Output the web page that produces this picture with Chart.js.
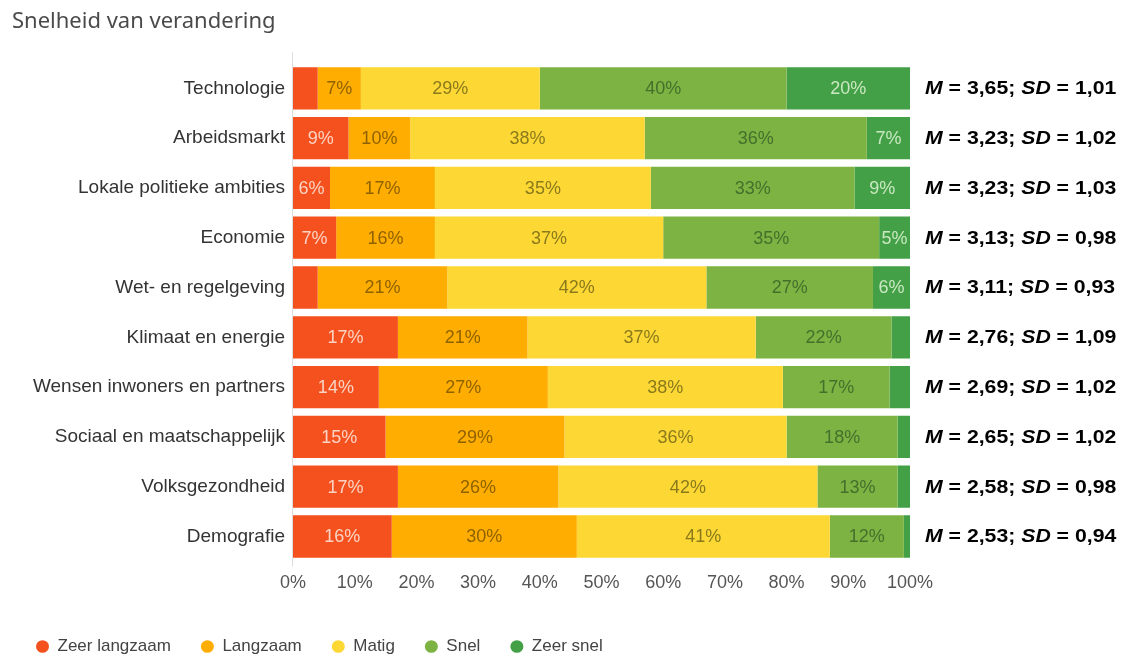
<!DOCTYPE html>
<html><head><meta charset="utf-8">
<script src="https://cdn.jsdelivr.net/npm/chart.js@4/dist/chart.umd.min.js"></script>
<style>html,body{margin:0;padding:0;background:#fff}#wrap{width:1121px;height:657px;position:relative}</style>
</head><body><div id="wrap"><canvas id="c"></canvas></div>
<script>
const categories = ["Technologie","Arbeidsmarkt","Lokale politieke ambities","Economie","Wet- en regelgeving","Klimaat en energie","Wensen inwoners en partners","Sociaal en maatschappelijk","Volksgezondheid","Demografie"];
const seriesNames = ["Zeer langzaam","Langzaam","Matig","Snel","Zeer snel"];
const zeerLangzaam = [4, 9, 6, 7, 4, 17, 13.9, 15, 17, 16];
const langzaam     = [7, 10, 17, 16, 21, 21, 27.4, 29, 26, 30];
const matig        = [29, 38, 35, 37, 42, 37, 38.1, 36, 42, 41];
const snel         = [40, 36, 33, 35, 27, 22, 17.3, 18, 13, 12];
const zeerSnel     = [20, 7, 9, 5, 6, 3, 3.3, 2, 2, 1];
const means = [3.65, 3.23, 3.23, 3.13, 3.11, 2.76, 2.69, 2.65, 2.58, 2.53];
const sds   = [1.01, 1.02, 1.03, 0.98, 0.93, 1.09, 1.02, 1.02, 0.98, 0.94];
const xTicks = [0,10,20,30,40,50,60,70,80,90,100];

const colors = ["#f4511e","#ffad00","#fdd835","#7cb342","#43a047"];
const labelColors = ["#fbd3c4","#8f6200","#8a7a1c","#44702c","#c9e8c1"];
const labelMin = 5;

const axisLine = {
  id:'axisLine',
  beforeDatasetsDraw(chart){
    const ctx = chart.ctx, a = chart.chartArea;
    ctx.save();
    ctx.strokeStyle = '#dddddd'; ctx.lineWidth = 1;
    ctx.beginPath();
    ctx.moveTo(a.left - 0.5, a.top - 11);
    ctx.lineTo(a.left - 0.5, a.bottom + 5);
    ctx.stroke();
    ctx.restore();
  }
};

const barLabels = {
  id:'barLabels',
  afterDatasetsDraw(chart){
    const ctx = chart.ctx;
    chart.data.datasets.forEach((ds,di)=>{
      const meta = chart.getDatasetMeta(di);
      meta.data.forEach((bar,i)=>{
        const v = ds.data[i];
        if (v < labelMin) return;
        const p = bar.getProps(['x','y','base'], true);
        ctx.save();
        ctx.font = '18px "Liberation Sans", Arial, sans-serif';
        ctx.fillStyle = labelColors[di];
        ctx.textAlign = 'center';
        ctx.textBaseline = 'middle';
        ctx.fillText(Math.round(v) + '%', (p.x + p.base)/2, p.y + 1);
        ctx.restore();
      });
    });
  }
};

const fmt = v => v.toFixed(2).replace('.', ',');
const statText = {
  id:'statText',
  afterDraw(chart){
    const ctx = chart.ctx, ys = chart.scales.y;
    categories.forEach((c,i)=>{
      const py = ys.getPixelForValue(i);
      ctx.save();
      ctx.translate(chart.chartArea.right + 15, py + 1);
      ctx.scale(1.18, 1);
      ctx.fillStyle = '#000';
      ctx.textBaseline = 'middle';
      let x = 0;
      const parts = [['M',true],[' = ' + fmt(means[i]) + '; ',false],['SD',true],[' = ' + fmt(sds[i]),false]];
      parts.forEach(([t,it])=>{
        ctx.font = (it ? 'italic ' : '') + 'bold 18px "Liberation Sans", Arial, sans-serif';
        ctx.fillText(t, x, 0);
        x += ctx.measureText(t).width;
      });
      ctx.restore();
    });
  }
};

const shiftLegend = {
  id:'shiftLegend',
  afterLayout(chart){
    const lg = chart.legend;
    lg.left -= 6; lg.right -= 6;
    lg.top = 647 - 30 - 9;
    lg.height = 657 - lg.top;
    lg.bottom = 657;
  }
};

Chart.defaults.font.family = '"Liberation Sans", Arial, sans-serif';
const datasetsData = [zeerLangzaam, langzaam, matig, snel, zeerSnel];

new Chart(document.getElementById('c'), {
  type:'bar',
  data:{
    labels: categories,
    datasets: datasetsData.map((d,i)=>({
      label: seriesNames[i], data: d, backgroundColor: colors[i],
      borderWidth: 0, barPercentage: 0.85, categoryPercentage: 1.0
    }))
  },
  options:{
    indexAxis:'y',
    responsive:true, maintainAspectRatio:false, animation:false,
    layout:{ padding:{ left:12, right:211, top:0, bottom:13 } },
    scales:{
      x:{ stacked:true, min:0, max:100,
          afterBuildTicks(s){ s.ticks = xTicks.map(v=>({value:v})); },
          ticks:{ callback:v=>v+'%', font:{size:18}, color:'#555', padding:11, maxRotation:0, autoSkip:false },
          grid:{ display:false, drawTicks:false }, border:{ display:false } },
      y:{ stacked:true,
          afterFit(s){ s.width = 281; },
          ticks:{ font:{size:19}, color:'#333', padding:8 },
          grid:{ display:false, drawTicks:false }, border:{ display:false } }
    },
    plugins:{
      title:{ display:true, text:'Snelheid van verandering', align:'start',
              font:{ family:'"Noto Sans", "Open Sans", sans-serif', size:22, weight:'normal' },
              color:'#4a4a4a', padding:{ top:9, bottom:28 } },
      legend:{ position:'bottom', align:'start', maxHeight:39,
               labels:{ usePointStyle:true, pointStyle:'circle', pointStyleWidth:13, boxHeight:9, boxWidth:13,
                        padding:30, color:'#444', font:{size:17} } },
      tooltip:{ enabled:false }
    }
  },
  plugins:[axisLine, barLabels, statText, shiftLegend]
});
</script>
</body></html>
